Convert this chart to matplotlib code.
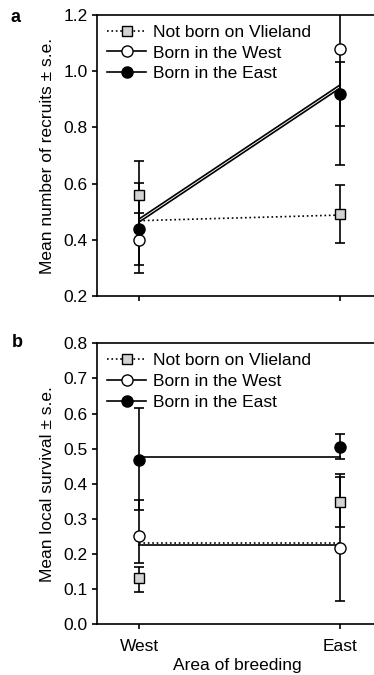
import matplotlib
matplotlib.use('Agg')
import matplotlib.pyplot as plt

plt.rcParams['font.family'] = ['Liberation Sans', 'DejaVu Sans']
plt.rcParams['font.size'] = 12.5

areas = ['West', 'East']
xpos = [0, 1]
groups = ['Not born on Vlieland', 'Born in the West', 'Born in the East']

# panel a: recruits (means, lower and upper s.e. limits), fitted lines
rec_mean = {'not': [0.56, 0.49], 'west': [0.40, 1.08], 'east': [0.437, 0.918]}
rec_low = {'not': [0.44, 0.388], 'west': [0.31, 0.666], 'east': [0.283, 0.806]}
rec_high = {'not': [0.68, 0.595], 'west': [0.496, 1.49], 'east': [0.603, 1.034]}
rec_fit = {'not': [0.468, 0.488], 'west': [0.463, 0.940], 'east': [0.474, 0.951]}

# panel b: local survival
surv_mean = {'not': [0.131, 0.349], 'west': [0.252, 0.216], 'east': [0.468, 0.506]}
surv_low = {'not': [0.093, 0.276], 'west': [0.174, 0.066], 'east': [0.325, 0.470]}
surv_high = {'not': [0.164, 0.427], 'west': [0.354, 0.420], 'east': [0.617, 0.542]}
surv_fit = {'not': [0.232, 0.232], 'west': [0.225, 0.225], 'east': [0.475, 0.475]}

styles = {
    'not': dict(ls=':', marker='s', mfc='#d3d3d3', ms=6.5),
    'west': dict(ls='-', marker='o', mfc='white', ms=8),
    'east': dict(ls='-', marker='o', mfc='black', ms=8),
}
keys = ['not', 'west', 'east']


def panel(ax, mean, low, high, fit, ylim, yticks, ylabel):
    for k in keys:
        lo = [m - l for m, l in zip(mean[k], low[k])]
        hi = [h - m for m, h in zip(mean[k], high[k])]
        ax.errorbar(xpos, mean[k], yerr=[lo, hi], fmt='none', ecolor='black',
                    elinewidth=1.2, capsize=3.3, capthick=1.2, zorder=2)
    for k in keys:
        st = styles[k]
        ax.plot(xpos, fit[k], ls=st['ls'], color='black', lw=1.2, zorder=3)
    handles = []
    for k, g in zip(keys, groups):
        st = styles[k]
        ax.plot(xpos, mean[k], ls='none', marker=st['marker'], mfc=st['mfc'],
                mec='black', mew=1.0, ms=st['ms'], zorder=4)
        h, = ax.plot([], [], ls=st['ls'], color='black', lw=1.2, marker=st['marker'],
                     mfc=st['mfc'], mec='black', mew=1.0, ms=st['ms'], label=g)
        handles.append(h)
    ax.legend(handles=handles, loc='upper left', bbox_to_anchor=(0, 1), frameon=False,
              handlelength=2.3, handletextpad=0.4, labelspacing=0.33,
              borderaxespad=0.15, borderpad=0.4, fontsize=12.5)
    ax.set_xlim(-0.209, 1.184)
    ax.set_ylim(*ylim)
    ax.set_yticks(yticks)
    ax.set_yticklabels(['%.1f' % t for t in yticks])
    ax.set_xticks(xpos)
    ax.spines['right'].set_visible(False)
    for s in ['left', 'bottom', 'top']:
        ax.spines[s].set_linewidth(1.2)
    ax.tick_params(direction='out', length=3.5, width=1.2, labelsize=12.5, pad=3)
    ax.tick_params(axis='x', pad=7)
    ax.set_ylabel(ylabel, fontsize=12.5, labelpad=6)


fig = plt.figure(figsize=(3.74, 6.75), dpi=100)
ax1 = fig.add_axes([0.2594, 0.5615, 0.7487, 0.4163])
ax2 = fig.add_axes([0.2594, 0.0751, 0.7487, 0.4163])

panel(ax1, rec_mean, rec_low, rec_high, rec_fit, (0.2, 1.2),
      [0.2, 0.4, 0.6, 0.8, 1.0, 1.2], 'Mean number of recruits \u00b1 s.e.')
ax1.set_xticklabels([])

panel(ax2, surv_mean, surv_low, surv_high, surv_fit, (0.0, 0.8),
      [0.0, 0.1, 0.2, 0.3, 0.4, 0.5, 0.6, 0.7, 0.8], 'Mean local survival \u00b1 s.e.')
ax2.set_xticklabels(areas)
ax2.set_xlabel('Area of breeding', fontsize=12.5, labelpad=3)

fig.text(0.027, 0.974, 'a', fontsize=13, fontweight='bold', va='center')
fig.text(0.032, 0.493, 'b', fontsize=13, fontweight='bold', va='center')

fig.savefig('out.png', dpi=100)
